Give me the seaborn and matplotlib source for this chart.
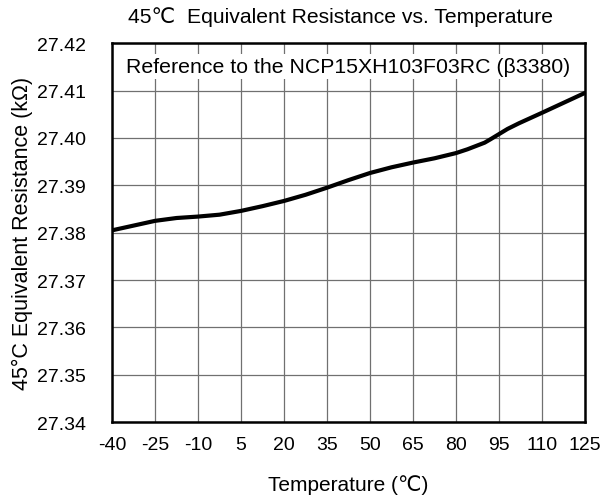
import matplotlib
matplotlib.use("Agg")
import matplotlib.pyplot as plt
import seaborn as sns
import pandas as pd

temperature = [-40, -32.5, -25, -17.5, -10, -2.5, 5, 12.5, 20, 27.5, 35, 42.5,
               50, 57.5, 65, 72.5, 80, 84, 87, 90, 92, 95, 98, 102, 110, 125]
resistance = [27.3805, 27.3815, 27.3825, 27.3831, 27.3834, 27.3838, 27.3846, 27.3856,
              27.3867, 27.3880, 27.3895, 27.3911, 27.3926, 27.3938, 27.3948, 27.3957,
              27.3968, 27.3976, 27.3983, 27.3990, 27.3997, 27.4008, 27.4019, 27.4031,
              27.4053, 27.4095]
x_ticks = [-40, -25, -10, 5, 20, 35, 50, 65, 80, 95, 110, 125]
y_ticks = [27.34, 27.35, 27.36, 27.37, 27.38, 27.39, 27.40, 27.41, 27.42]

df = pd.DataFrame({"Temperature": temperature, "Resistance": resistance})

sns.set_theme(style="white")
plt.rcParams["font.family"] = ["Liberation Sans", "DejaVu Sans"]

fig = plt.figure(figsize=(6.03, 5.02), dpi=100)
ax = fig.add_axes([0.186, 0.157, 0.784, 0.755])

sns.lineplot(data=df, x="Temperature", y="Resistance", ax=ax, color="black",
             linewidth=3.0, zorder=3)

ax.set_xlim(-40, 125)
ax.set_ylim(27.34, 27.42)
ax.set_xticks(x_ticks)
ax.set_xticklabels([str(t) for t in x_ticks])
ax.set_yticks(y_ticks)
ax.set_yticklabels([f"{v:.2f}" for v in y_ticks])
ax.tick_params(axis="both", length=0, labelsize=14, colors="black")
ax.tick_params(axis="y", pad=19)
ax.tick_params(axis="x", pad=10)
ax.grid(True, color="#707070", linewidth=0.9)
for s in ax.spines.values():
    s.set_color("black")
    s.set_linewidth(1.8)
    s.set_zorder(4)

ax.set_xlabel("Temperature (\u2103)", fontsize=15, labelpad=15, color="black")
ax.set_ylabel("45\u00b0C Equivalent Resistance (k\u03a9)", fontsize=15.5, labelpad=3, color="black")
ax.set_title("45\u2103  Equivalent Resistance vs. Temperature", fontsize=15.2, pad=15,
             color="black", x=0.484)

ax.text(0.5, 0.9235, "Reference to the NCP15XH103F03RC (\u03b23380)", transform=ax.transAxes,
        ha="center", va="baseline", fontsize=15.3, color="black", zorder=2,
        bbox=dict(facecolor="white", edgecolor="none", pad=2))

fig.savefig("out.png", dpi=100)
